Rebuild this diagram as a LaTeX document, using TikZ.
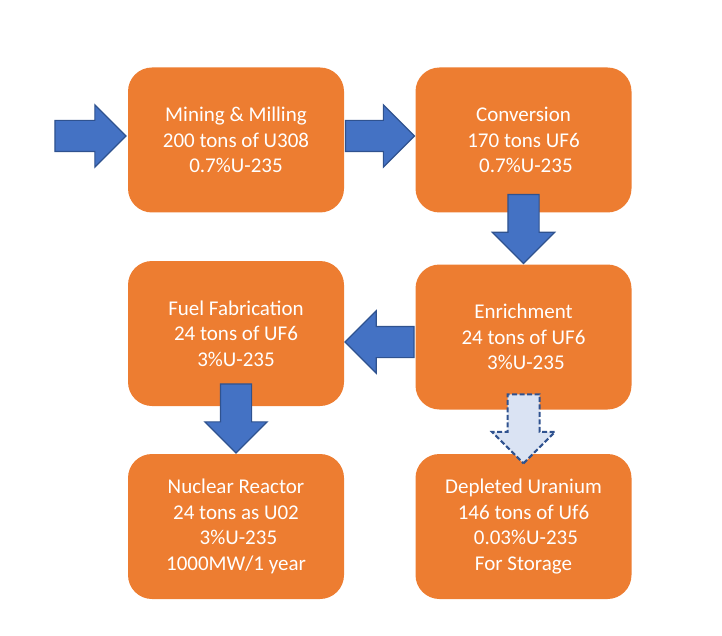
\documentclass[tikz,border=0pt]{standalone}
\usepackage{fontspec}
\setmainfont{Carlito}
\usetikzlibrary{shapes.arrows,calc}
\definecolor{boxorange}{HTML}{ED7D31}
\definecolor{arrblue}{HTML}{4472C4}
\definecolor{arrline}{HTML}{2F528F}
\definecolor{arrpale}{HTML}{DAE3F3}
\newcommand{\lsp}{\hspace*{.23em}}
\begin{document}
\begin{tikzpicture}[x=1pt,y=-1pt, font=\fontsize{21}{25.5}\selectfont,
	stage/.style={rounded corners=24pt, fill=boxorange, text=white, minimum width=216pt, minimum height=145pt, align=center, inner sep=0pt},
	fat/.style={single arrow, single arrow head extend=15.5pt, single arrow tip angle=90, inner xsep=0pt, inner ysep=15pt, minimum height=69pt, fill=arrblue, draw=arrline, line width=1.2pt},
	fatdash/.style={fat, fill=arrpale, dash pattern=on 5pt off 2.5pt, line width=2pt}]
	\useasboundingbox (0,0) rectangle (722,636);
	\def\xl{236} \def\xr{523.5} % cot
	\node[stage] (mine) at (\xl,140) {Mining \& Milling\\200 tons of U308\\0.7\%U-235};
	\node[stage] (conv) at (\xr,140) {Conversion\\170 tons UF6\\\lsp0.7\%U-235};
	\node[stage] (fuel) at (\xl,333.5) {Fuel Fabrication\\24 tons of UF6\\3\%U-235};
	\node[stage] (enr) at (\xr,337) {Enrichment\\24 tons of UF6\\\lsp3\%U-235};
	\node[stage] (reac) at (\xl,526.5) {Nuclear Reactor\\24 tons as U02\\\lsp3\%U-235\\1000MW/1 year};
	\node[stage] (depl) at (\xr,526.5) {Depleted Uranium\\146 tons of Uf6\\\lsp0.03\%U-235\\For Storage};
	\node[fat,minimum height=71pt,anchor=tip] (feed) at ($(mine.west)+(-1,-4)$) {};
	\node[fat,anchor=tip] (mc) at ($(conv.west)+(0,-4)$) {};
	\node[fat,rotate=-90,anchor=tip] (ce) at (enr.north) {};
	\node[fat,rotate=180,anchor=tip] (ef) at ($(fuel.east)+(0,8.5)$) {};
	\node[fat,rotate=-90,anchor=tip] (fr) at (reac.north) {};
	\node[fatdash,rotate=-90,anchor=tip] (ed) at ($(depl.north)+(0,11)$) {};
\end{tikzpicture}
\end{document}
